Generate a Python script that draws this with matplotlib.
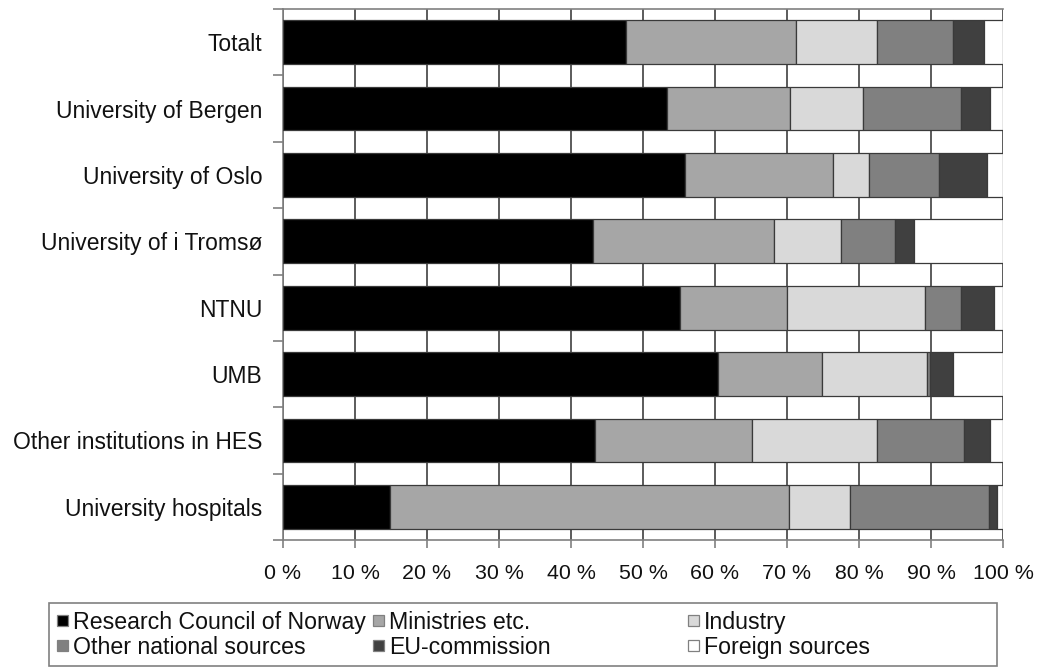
import matplotlib
matplotlib.use("Agg")
import matplotlib.pyplot as plt
from matplotlib.patches import Rectangle
import numpy as np

plt.rcParams['font.family'] = ['Liberation Sans', 'DejaVu Sans']

categories = ["Totalt", "University of Bergen", "University of Oslo",
              "University of i Tromsø", "NTNU", "UMB",
              "Other institutions in HES", "University hospitals"]
series_names = ["Research Council of Norway", "Ministries etc.", "Industry",
                "Other national sources", "EU-commission", "Foreign sources"]
research_council = [47.6, 53.4, 55.8, 43.1, 55.2, 60.4, 43.3, 14.9]
ministries       = [23.6, 17.0, 20.6, 25.1, 14.8, 14.5, 21.9, 55.4]
industry         = [11.3, 10.1,  5.0,  9.3, 19.2, 14.6, 17.3,  8.4]
other_national   = [10.6, 13.7,  9.7,  7.5,  4.9,  0.4, 12.1, 19.4]
eu_commission    = [ 4.3,  4.0,  6.7,  2.6,  4.6,  3.2,  3.6,  1.1]
foreign_sources  = [ 2.6,  1.8,  2.2, 12.4,  1.3,  6.9,  1.8,  0.8]
colors = ["#000000", "#a6a6a6", "#d9d9d9", "#808080", "#404040", "#ffffff"]
xtick_labels = ["0 %", "10 %", "20 %", "30 %", "40 %", "50 %",
                "60 %", "70 %", "80 %", "90 %", "100 %"]

series = [research_council, ministries, industry, other_national,
          eu_commission, foreign_sources]

W, H = 1038, 668
fig = plt.figure(figsize=(W/100, H/100), dpi=100)
ax = fig.add_axes([283/W, 1-540/H, 720/W, 531/H])

y = np.arange(len(categories))
left = np.zeros(len(categories))
for vals, c, name in zip(series, colors, series_names):
    ax.barh(y, vals, left=left, height=0.66, color=c, edgecolor="#3a3a3a",
            linewidth=0.9, label=name, zorder=3)
    left += np.array(vals)

ax.set_ylim(len(categories) - 0.5, -0.5)
ax.set_xlim(0, 100)
ax.set_xticks(np.arange(0, 101, 10))
ax.set_xticklabels(xtick_labels, fontsize=15.4, color="#111111")
ax.set_yticks(y)
ax.set_yticklabels(categories, fontsize=16.5, color="#111111")
ax.set_yticks(np.arange(-0.5, len(categories), 1), minor=True)
ax.tick_params(axis='y', which='major', length=0, pad=15)
ax.tick_params(axis='y', which='minor', length=7, width=1.2, color="#808080", direction='out')
ax.tick_params(axis='x', which='major', length=6, width=1.2, color="#808080", direction='out', pad=11)
ax.xaxis.grid(True, color="#404040", linewidth=1.2, zorder=0)
ax.set_axisbelow(True)
ax.spines['right'].set_visible(False)
for s in ['left', 'bottom', 'top']:
    ax.spines[s].set_color("#808080")
    ax.spines[s].set_linewidth(1.2)

# legend (drawn by hand to match the column placement)
frame = Rectangle((49/W, 1-666/H), (997-49)/W, (666-603)/H, transform=fig.transFigure,
                  facecolor='white', edgecolor="#808080", linewidth=1.2)
fig.add_artist(frame)
col_x = [57, 373, 688]
row_y = [620, 645]
for i, (name, c) in enumerate(zip(series_names, colors)):
    r, k = divmod(i, 3)
    mx, my = col_x[k], row_y[r]
    sq = Rectangle((mx/W, 1-(my+5.5)/H), 11/W, 11/H, transform=fig.transFigure,
                   facecolor=c, edgecolor="#808080", linewidth=0.9)
    fig.add_artist(sq)
    fig.text((mx+16)/W, 1-my/H, name, fontsize=16.7, color="#111111",
             ha='left', va='center_baseline')

fig.savefig("out.png", dpi=100)
